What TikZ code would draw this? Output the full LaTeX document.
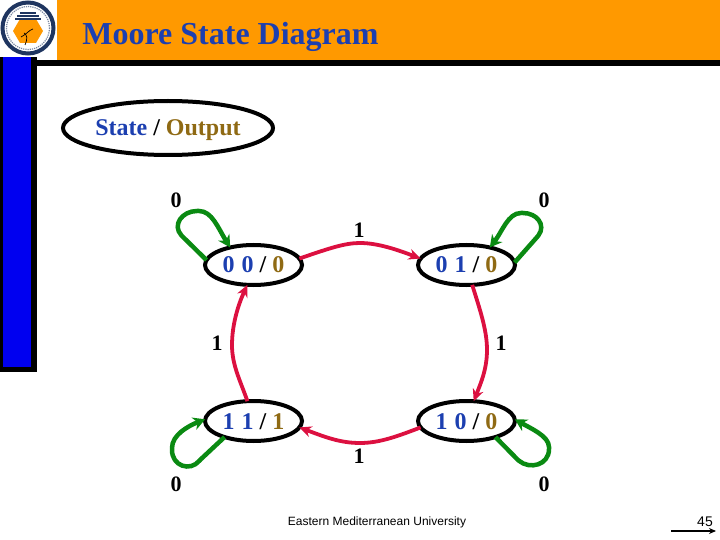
\documentclass[tikz,border=0pt]{standalone}
\usepackage{fontspec}
\setmainfont{Liberation Serif}
\newfontfamily\footfont{Liberation Sans}
\usepackage{tikz}
\usetikzlibrary{positioning, arrows.meta, shapes.geometric}
\definecolor{headorange}{HTML}{FF9900}
\definecolor{titleblue}{HTML}{1C3FB0}
\definecolor{barblue}{HTML}{0000F0}
\definecolor{outbrown}{HTML}{8F6A14}
\definecolor{edgered}{HTML}{DC1040}
\definecolor{loopgreen}{HTML}{0A8A12}
\definecolor{logonavy}{HTML}{1F3560}
\newcommand{\stlabel}[3]{\raisebox{-8pt}[0pt][0pt]{{\color{titleblue}#1\hspace{1pt} #2} / {\color{outbrown}#3}}}

\begin{document}
\begin{tikzpicture}[
    x=1pt, y=-1pt,
    % Style for the ovals that hold state and output
    statenode/.style = {draw, ellipse, line width=4pt, inner sep=0pt, outer sep=0pt,
        minimum width=97pt, minimum height=40pt, font=\fontsize{24}{28}\selectfont\bfseries},
    % Style for the input values beside the arrows
    inputlabel/.style = {inner sep=0pt, font=\fontsize{22}{26}\selectfont\bfseries},
    % Styles for the arrows
    edgearrow/.style = {-{Stealth[length=12pt,width=11pt]}, line width=3.8pt, edgered},
    looparrow/.style = {-{Stealth[length=12pt,width=13pt]}, line width=4.5pt, loopgreen, rounded corners=1pt}
]
    \useasboundingbox (0,0) rectangle (720,540);

    % --- SLIDE FRAME ---
    \fill[headorange] (57,0) rectangle (720,60);
    \fill[black] (37,60) rectangle (720,66);
    \fill[black] (0,57) rectangle (37,372);
    \fill[barblue] (3,57) rectangle (31,367);
    \node[inner sep=0pt, text=titleblue, font=\fontsize{32}{36}\selectfont\bfseries] (title) at (230.5,37) {Moore State Diagram};

    % --- LOGO ---
    \fill[white] (0,0) rectangle (57,57);
    \draw[logonavy, line width=4pt] (28,28) circle (25.5);
    \draw[logonavy!60, line width=1.2pt, densely dotted] (28,28) circle (21.5);
    \fill[headorange] (13,31) -- (20,19) -- (36,19) -- (43,31) -- (36,43) -- (20,43) -- cycle;
    \foreach \ytop/\halfw in {13/8, 16/11, 19/13} {
        \draw[logonavy, line width=1.5pt] (28-\halfw,\ytop) -- (28+\halfw,\ytop);
    }
    \draw[black, line width=0.7pt] (21,37) .. controls (27,34) and (29,30) .. (33,29);
    \draw[black, line width=0.7pt] (24,33) .. controls (27,35) and (28,38) .. (25,45);

    % --- LEGEND ---
    \node[statenode, minimum width=210pt, minimum height=54pt] (legend) at (168,128) {\raisebox{-8pt}[0pt][0pt]{{\color{titleblue}State} / {\color{outbrown}Output}}};

    % --- STATES ---
    \node[statenode] (S00) at (253.5,265) {\stlabel{0}{0}{0}};
    \node[statenode] (S01) at (466.5,265) {\stlabel{0}{1}{0}};
    \node[statenode] (S11) at (253.5,421) {\stlabel{1}{1}{1}};
    \node[statenode] (S10) at (466.5,421) {\stlabel{1}{0}{0}};

    % --- RED TRANSITIONS ---
    \draw[edgearrow] (S00.8) .. controls (330,248) and (345,243) .. (360,243) .. controls (378,243) and (398,250) .. (S01.172);
    \draw[edgearrow] (S01.286) .. controls (480,310) and (487,330) .. (487,350) .. controls (487,370) and (480,385) .. (S10.70);
    \draw[edgearrow] (S10.188) .. controls (398,436) and (380,443) .. (360,443) .. controls (340,443) and (325,437) .. (S11.352);
    \draw[edgearrow] (S11.107) .. controls (240,380) and (232,365) .. (232,345) .. controls (232,325) and (238,305) .. (S00.253);

    % --- GREEN SELF LOOPS ---
    \draw[looparrow] (S00.174) -- (182,236) .. controls (172,225) and (182,211) .. (198,211) .. controls (212,211) and (218,228) .. (S00.143);
    \draw[looparrow] (S01.3.5) -- (538,236) .. controls (546,225) and (537,213) .. (522,213) .. controls (508,213) and (502,232) .. (S01.37);
    \draw[looparrow] (S11.209) -- (200,460) .. controls (190,472) and (172,466) .. (172,449) .. controls (172,435) and (188,426) .. (S11.178);
    \draw[looparrow] (S10.331) -- (518,460) .. controls (530,470) and (549,465) .. (549,448) .. controls (549,436) and (530,428) .. (S10.2);

    % --- INPUT LABELS ---
    \node[inputlabel] (in00) at (176,200) {0};
    \node[inputlabel] (in01) at (544,200) {0};
    \node[inputlabel] (in11) at (176,484) {0};
    \node[inputlabel] (in10) at (544,484) {0};
    \node[inputlabel] (top1) at (359,230) {1};
    \node[inputlabel] (left1) at (217,343) {1};
    \node[inputlabel] (right1) at (501,343) {1};
    \node[inputlabel] (bot1) at (359,456) {1};

    % --- FOOTER ---
    \node[inner sep=0pt, font=\footfont\fontsize{12}{14}\selectfont] (footer) at (377,522) {Eastern Mediterranean University};
    \node[inner sep=0pt, font=\footfont\fontsize{14}{16}\selectfont] (pagenum) at (705,522) {45};
    \coordinate (navstart) at (671,531);
    \coordinate (navend) at (716,531);
    \draw[-{Stealth[length=7pt,width=6pt]}, line width=1.3pt] (navstart) -- (navend);
\end{tikzpicture}
\end{document}
